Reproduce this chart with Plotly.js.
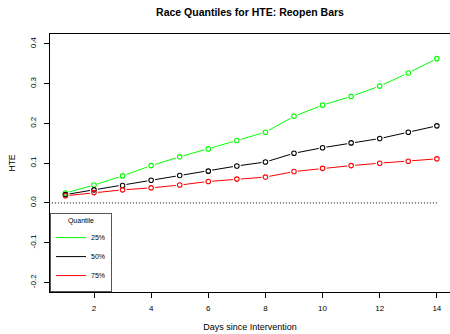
<!DOCTYPE html>
<html><head><meta charset="utf-8">
<script src="https://cdn.plot.ly/plotly-3.0.1.min.js"></script>
<style>html,body{margin:0;padding:0;background:#fff}#chart{width:450px;height:334px}</style>
</head><body><div id="chart"></div>
<script>
const days = [1,2,3,4,5,6,7,8,9,10,11,12,13,14];
const q25 = [0.025,0.045,0.068,0.094,0.116,0.136,0.157,0.178,0.218,0.246,0.268,0.294,0.327,0.363];
const q50 = [0.021,0.033,0.044,0.057,0.069,0.080,0.093,0.103,0.125,0.139,0.151,0.162,0.178,0.194];
const q75 = [0.018,0.026,0.033,0.038,0.045,0.054,0.060,0.065,0.079,0.087,0.094,0.100,0.105,0.111];
const seriesNames = ['25%','50%','75%'];
const seriesColors = ['#00ff00','#000000','#ff0000'];
const yTickVals = [-0.2,-0.1,0.0,0.1,0.2,0.3,0.4];
const yTickText = ['-0.2','-0.1','0.0','0.1','0.2','0.3','0.4'];
const xTickVals = [2,4,6,8,10,12,14];

const series = [q25,q50,q75];
const font = 'Liberation Sans, Arial, Helvetica, sans-serif';
const traces = [];
series.forEach((s,i)=>traces.push({x:days,y:s,type:'scatter',mode:'lines',name:seriesNames[i],
  line:{color:seriesColors[i],width:1},hoverinfo:'skip'}));
series.forEach((s,i)=>traces.push({x:days,y:s,type:'scatter',mode:'markers',showlegend:false,
  marker:{symbol:'circle',size:8,color:'#ffffff',line:{width:0}},hoverinfo:'skip'}));
series.forEach((s,i)=>traces.push({x:days,y:s,type:'scatter',mode:'markers',showlegend:false,
  marker:{symbol:'circle-open',size:4.5,color:seriesColors[i],line:{width:1.1,color:seriesColors[i]}},hoverinfo:'skip'}));

const black = {color:'#000'};
const layout = {
  width:450,height:334,
  margin:{l:50,r:0,t:34,b:42},
  paper_bgcolor:'#fff',plot_bgcolor:'#fff',
  font:{family:font,color:'#000',size:8},
  title:{text:'<b>Race Quantiles for HTE: Reopen Bars</b>',font:{size:10.5,family:font,color:'#000'},
    xref:'paper',x:0.5,xanchor:'center',yref:'container',y:1-12/334,yanchor:'middle'},
  xaxis:{range:[0.46,14.46],tickvals:xTickVals,ticks:'outside',ticklen:5,tickcolor:'#000',
    showline:true,mirror:true,linecolor:'#000',linewidth:1,showgrid:false,zeroline:false,
    tickfont:{size:8,color:'#000',family:font},ticklabelstandoff:3,
    title:{text:'Days since Intervention',font:{size:9,color:'#000',family:font},standoff:12}},
  yaxis:{range:[-0.224,0.425],tickvals:yTickVals,ticktext:yTickText,ticks:'outside',ticklen:5,tickcolor:'#000',
    showline:true,mirror:false,linecolor:'#000',linewidth:1,showgrid:false,zeroline:false,
    tickangle:-90,tickfont:{size:8,color:'#000',family:font},ticklabelstandoff:5,
    title:{text:'HTE',font:{size:8.5,color:'#000',family:font},standoff:11}},
  shapes:[{type:'line',xref:'x',yref:'y',x0:0,x1:14,y0:0,y1:0,line:{color:'#000',width:1,dash:'1px,2px'}}],
  legend:{x:0,y:0,xanchor:'left',yanchor:'bottom',xref:'paper',yref:'paper',
    bgcolor:'#fff',bordercolor:'#555',borderwidth:1,font:{size:7,color:'#000',family:font},
    title:{text:'Quantile',side:'top center',font:{size:7,color:'#000',family:font}},itemwidth:30},
  showlegend:true
};
Plotly.newPlot('chart',traces,layout,{staticPlot:true});
</script></body></html>
